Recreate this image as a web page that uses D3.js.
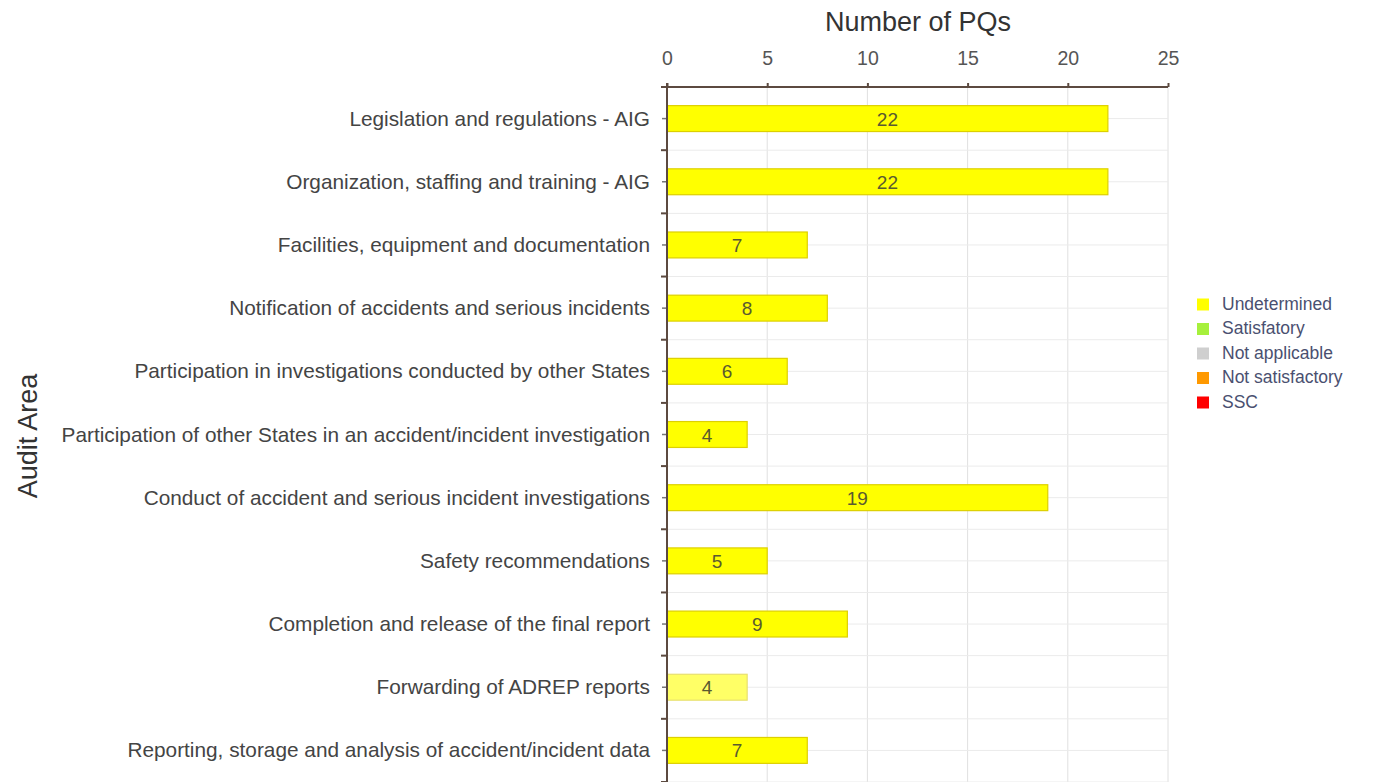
<!DOCTYPE html>
<html><head><meta charset="utf-8">
<script src="https://cdn.jsdelivr.net/npm/d3@7"></script>
<style>
body{margin:0;background:#fff;}
svg{font-family:"Liberation Sans",Arial,sans-serif;}
</style></head>
<body><svg id="c" width="1374" height="782"></svg>
<script>
const categories = [
 "Legislation and regulations - AIG",
 "Organization, staffing and training - AIG",
 "Facilities, equipment and documentation",
 "Notification of accidents and serious incidents",
 "Participation in investigations conducted by other States",
 "Participation of other States in an accident/incident investigation",
 "Conduct of accident and serious incident investigations",
 "Safety recommendations",
 "Completion and release of the final report",
 "Forwarding of ADREP reports",
 "Reporting, storage and analysis of accident/incident data"
];
const undetermined = [22,22,7,8,6,4,19,5,9,4,7];
const xTicks = [0,5,10,15,20,25];
const legendLabels = ["Undetermined","Satisfatory","Not applicable","Not satisfactory","SSC"];
const legendColors = ["#ffff00","#a6f03c","#cfcfcf","#ff9900","#ff0000"];

(function(){
const svg = d3.select("#c");
const pl = 667, pr = 1168, pt = 87, pb = 782;
const x = d3.scaleLinear().domain([0,25]).range([pl,pr]);
const y = d3.scaleBand().domain(categories).range([pt,pb]).paddingInner(0.59).paddingOuter(0.295);
const step = y.step();

// grid
const g = svg.append("g");
xTicks.slice(1).forEach(t=>{
  g.append("line").attr("x1",x(t)).attr("x2",x(t)).attr("y1",pt).attr("y2",pb)
   .attr("stroke","#e0e0e0").attr("stroke-width",1);
});
for(let i=0;i<=categories.length*2;i++){
  const yy = pt + i*step/2;
  g.append("line").attr("x1",pl).attr("x2",pr).attr("y1",yy).attr("y2",yy)
   .attr("stroke","#ebebeb").attr("stroke-width",1);
}

// bars
svg.selectAll("rect.bar").data(categories).join("rect")
  .attr("x",x(0)).attr("y",d=>y(d))
  .attr("width",(d,i)=>x(undetermined[i])-x(0))
  .attr("height",y.bandwidth())
  .attr("fill",(d,i)=>i===9?"#ffff66":"#ffff00")
  .attr("stroke",(d,i)=>i===9?"#e8e070":"#ddd000").attr("stroke-width",1.2);

svg.selectAll("text.val").data(categories).join("text")
  .attr("x",(d,i)=>(x(0)+x(undetermined[i]))/2)
  .attr("y",d=>y(d)+y.bandwidth()/2+7)
  .attr("text-anchor","middle")
  .style("font-size","19px").attr("fill","#5a5a30")
  .text((d,i)=>undetermined[i]);

// top axis
const ax = svg.append("g").attr("transform",`translate(0,${pt})`)
  .call(d3.axisTop(x).tickValues(xTicks).tickSize(4).tickPadding(18));
ax.attr("font-family",null).attr("font-size",null);
ax.select(".domain").attr("stroke","#5c4a40").attr("stroke-width",2).attr("d",`M${pl-4},0H${pr}`);
ax.selectAll(".tick line").attr("stroke","#5c4a40").attr("stroke-width",2);
ax.selectAll(".tick text").style("font-size","19.5px").attr("fill","#555");

// left axis
svg.append("line").attr("x1",pl).attr("x2",pl).attr("y1",pt-4).attr("y2",pb)
  .attr("stroke","#5c4a40").attr("stroke-width",2);
for(let i=0;i<=categories.length;i++){
  const yy = pt + i*step;
  svg.append("line").attr("x1",pl-6).attr("x2",pl).attr("y1",yy).attr("y2",yy)
    .attr("stroke","#5c4a40").attr("stroke-width",2);
}
categories.forEach(c=>{
  const yy = y(c)+y.bandwidth()/2;
  svg.append("line").attr("x1",pl-5).attr("x2",pl-1).attr("y1",yy).attr("y2",yy)
    .attr("stroke","#777").attr("stroke-width",1.5);
  svg.append("text").attr("x",650).attr("y",yy+7).attr("text-anchor","end")
    .style("font-size","20.8px").attr("fill","#444").text(c);
});

// titles
svg.append("text").attr("x",918).attr("y",31).attr("text-anchor","middle")
  .style("font-size","27px").attr("fill","#333").text("Number of PQs");
svg.append("text").attr("transform","translate(37,436) rotate(-90)").attr("text-anchor","middle")
  .style("font-size","27px").attr("fill","#333").text("Audit Area");

// legend
const lg = svg.append("g");
legendLabels.forEach((l,i)=>{
  const base = 309.5 + i*24.5;
  lg.append("rect").attr("x",1197).attr("y",base-11).attr("width",12).attr("height",12).attr("fill",legendColors[i]);
  lg.append("text").attr("x",1222).attr("y",base).style("font-size","17.5px").attr("fill","#4a5070").text(l);
});
})();
</script></body></html>
